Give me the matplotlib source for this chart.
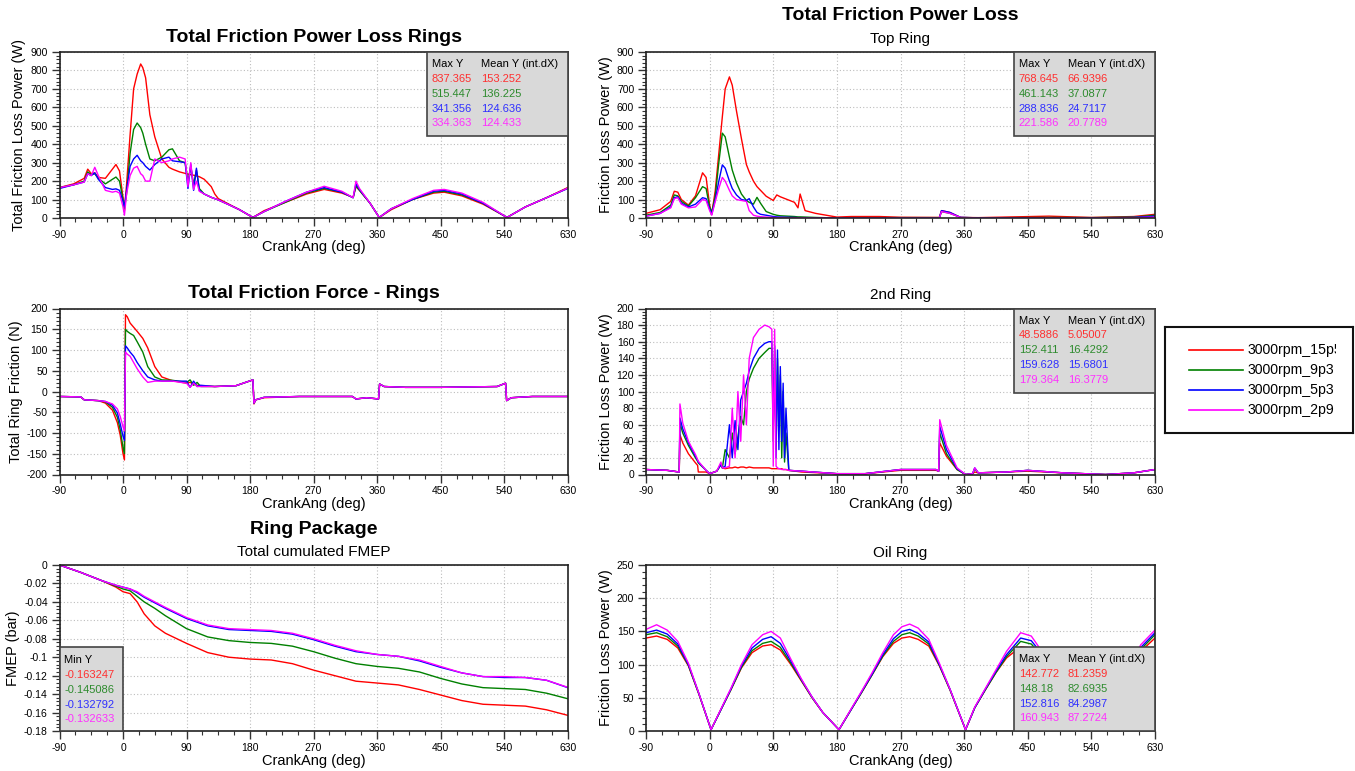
import numpy as np
import matplotlib.pyplot as plt
from matplotlib.ticker import MultipleLocator, AutoMinorLocator, FuncFormatter
from matplotlib.patches import Rectangle
from matplotlib.transforms import Bbox, TransformedBbox

plt.rcParams['font.family'] = ['Liberation Sans', 'DejaVu Sans']
plt.rcParams['axes.unicode_minus'] = False

runs = ['3000rpm_15p5', '3000rpm_9p3', '3000rpm_5p3', '3000rpm_2p9']
colors = ['#ff0000', '#008000', '#0000ff', '#ff00ff']
text_colors = ['#ff3030', '#2e8b2e', '#3030ff', '#ff30ff']

# ---- Total friction power loss rings (W)
x_p1 = [-90, -70, -55, -50, -45, -40, -35, -25, -15, -10, -5, 0, 2, 5, 10,
        15, 20, 25, 28, 32, 38, 45, 55, 65, 70, 80, 88, 92, 96, 100,
        104, 108, 115, 125, 130, 135, 150, 165, 184, 200, 230, 260, 285, 310, 326,
        330, 335, 350, 363, 380, 410, 440, 455, 480, 510, 544, 570, 600, 630]
p1_red = [165, 185, 215, 265, 240, 245, 220, 215, 265, 290, 255, 110, 40, 180, 450,
          700, 780, 835, 815, 760, 560, 440, 320, 275, 265, 250, 242, 238, 235, 232,
          228, 224, 210, 170, 130, 105, 75, 45, 3, 40, 85, 130, 155, 135, 112,
          170, 150, 80, 3, 45, 100, 135, 140, 120, 75, 3, 60, 110, 165]
p1_green = [165, 180, 200, 250, 235, 240, 215, 185, 210, 222, 200, 100, 50, 130, 350,
            480, 515, 490, 460, 400, 320, 310, 330, 370, 375, 310, 300, 200, 280, 180,
            260, 160, 130, 112, 105, 98, 72, 45, 3, 35, 85, 135, 160, 140, 110,
            175, 150, 80, 3, 50, 100, 140, 145, 125, 80, 3, 60, 110, 162]
p1_blue = [160, 180, 195, 240, 230, 245, 210, 165, 155, 158, 150, 90, 60, 150, 280,
           320, 340, 310, 300, 280, 260, 290, 320, 330, 310, 305, 300, 160, 290, 150,
           270, 150, 130, 112, 105, 98, 72, 45, 3, 35, 90, 140, 165, 140, 110,
           185, 155, 80, 3, 50, 100, 145, 150, 130, 80, 3, 60, 110, 160]
p1_magenta = [165, 180, 195, 240, 230, 275, 230, 150, 140, 145, 135, 60, 15, 130, 230,
              270, 280, 240, 230, 200, 200, 320, 300, 310, 320, 330, 320, 170, 300, 155,
              200, 145, 130, 112, 105, 98, 72, 45, 3, 35, 90, 140, 172, 145, 110,
              200, 160, 80, 3, 50, 105, 150, 155, 135, 85, 3, 60, 110, 162]
p1_max = ['837.365', '515.447', '341.356', '334.363']
p1_mean = ['153.252', '136.225', '124.636', '124.433']

# ---- Top ring (W)
x_p2 = [-90, -70, -55, -50, -45, -40, -30, -20, -10, -5, 0, 3, 8, 13, 18,
        22, 28, 32, 38, 45, 52, 56, 62, 67, 72, 80, 90, 95, 100, 120,
        125, 128, 135, 150, 180, 200, 240, 270, 325, 328, 340, 355, 380, 480, 540,
        600, 630]
p2_red = [25, 45, 90, 145, 140, 100, 70, 120, 245, 220, 70, 22, 150, 350, 550,
          700, 765, 720, 580, 430, 290, 250, 200, 170, 150, 118, 95, 125, 115, 85,
          55, 130, 40, 25, 5, 8, 8, 4, 3, 40, 30, 3, 2, 10, 3,
          8, 20]
p2_green = [15, 30, 70, 125, 120, 90, 65, 110, 170, 160, 60, 30, 120, 300, 460,
            440, 330, 260, 190, 130, 95, 85, 75, 112, 80, 35, 20, 15, 12, 8,
            6, 6, 5, 3, 0, 2, 2, 2, 2, 35, 25, 3, 1, 3, 2,
            5, 15]
p2_blue = [10, 25, 60, 110, 115, 80, 60, 75, 110, 105, 50, 20, 100, 200, 288,
           270, 200, 160, 125, 100, 95, 105, 60, 30, 20, 15, 8, 6, 5, 3,
           2, 2, 2, 1, 0, 1, 1, 1, 1, 40, 30, 3, 1, 1, 1,
           3, 10]
p2_magenta = [10, 25, 55, 105, 110, 75, 55, 60, 100, 95, 40, 15, 90, 160, 220,
              200, 150, 120, 100, 95, 90, 40, 15, 10, 7, 5, 3, 2, 2, 1,
              1, 1, 1, 0, 0, 0, 0, 0, 0, 35, 25, 3, 0, 0, 0,
              2, 5]
p2_max = ['768.645', '461.143', '288.836', '221.586']
p2_mean = ['66.9396', '37.0877', '24.7117', '20.7789']

# ---- Total ring friction force (N)
x_p3 = [-90, -60, -55, -35, -25, -15, -8, -4, 0, 2, 3.5, 6, 10, 15, 20,
        28, 35, 45, 55, 70, 90, 95, 100, 105, 110, 130, 160, 184, 185.5, 188,
        200, 250, 325, 330, 345, 362, 363.5, 370, 400, 450, 530, 542, 543.5, 550, 580,
        630]
p3_red = [-12, -13, -20, -22, -28, -45, -75, -105, -150, -165, 185, 180, 165, 155, 145,
          128, 105, 60, 35, 26, 20, 22, 18, 15, 14, 12, 14, 28, -30, -20,
          -15, -12, -12, -18, -15, -18, 18, 12, 10, 10, 12, 20, -22, -15, -12,
          -12]
p3_green = [-12, -13, -20, -22, -25, -38, -62, -92, -135, -150, 150, 145, 140, 135, 120,
            95, 60, 35, 28, 27, 22, 28, 15, 22, 12, 12, 14, 28, -28, -20,
            -14, -12, -12, -18, -15, -18, 18, 12, 10, 10, 12, 20, -22, -15, -12,
            -12]
p3_blue = [-12, -13, -20, -22, -24, -33, -52, -78, -108, -118, 110, 105, 95, 85, 70,
           50, 35, 28, 25, 25, 25, 10, 25, 12, 15, 12, 14, 28, -28, -20,
           -14, -12, -12, -18, -15, -18, 18, 12, 10, 10, 12, 20, -22, -15, -12,
           -12]
p3_magenta = [-12, -13, -20, -22, -24, -30, -42, -60, -85, -95, 95, 90, 85, 70, 55,
              35, 22, 25, 25, 25, 20, 10, 20, 12, 12, 12, 14, 28, -28, -20,
              -14, -12, -12, -18, -15, -18, 18, 12, 10, 10, 12, 20, -22, -15, -12,
              -12]

# ---- 2nd ring (W)
x_p4 = [-90, -60, -43, -42, -38, -30, -20, -17, -16, -5, 0, 10, 16, 18, 22,
        28, 32, 36, 40, 44, 48, 52, 56, 62, 70, 78, 84, 88, 90, 92,
        94, 96, 98, 100, 102, 104, 106, 108, 112, 130, 180, 220, 270, 320, 324,
        325.5, 335, 350, 362, 372, 375, 380, 420, 450, 500, 530, 560, 600, 630]
p4_red = [6, 5, 3, 48, 38, 25, 14, 11, 3, 3, 1, 4, 12, 8, 7,
          8, 8, 9, 8, 9, 9, 8, 9, 8, 8, 8, 8, 7, 7, 7,
          7, 7, 7, 7, 7, 6, 6, 6, 5, 3, 1, 1, 5, 5, 4,
          38, 22, 6, 0, 1, 3, 2, 3, 4, 2, 1, 0, 2, 6]
p4_green = [6, 5, 3, 62, 50, 35, 20, 16, 14, 5, 1, 4, 12, 8, 30,
            20, 50, 25, 45, 70, 60, 100, 115, 128, 140, 147, 152, 152, 40, 150,
            30, 140, 60, 120, 20, 100, 15, 50, 5, 4, 1, 1, 6, 6, 4,
            50, 25, 6, 0, 1, 7, 2, 3, 5, 2, 1, 0, 2, 6]
p4_blue = [6, 5, 3, 68, 55, 38, 22, 17, 15, 5, 1, 4, 12, 8, 10,
           60, 20, 65, 30, 90, 100, 110, 125, 140, 152, 158, 160, 160, 60, 155,
           20, 150, 30, 130, 40, 110, 20, 80, 5, 4, 1, 1, 6, 6, 4,
           58, 30, 7, 0, 1, 8, 2, 3, 5, 2, 1, 0, 2, 6]
p4_magenta = [6, 5, 3, 85, 62, 40, 24, 18, 16, 5, 1, 4, 15, 8, 8,
              10, 80, 20, 100, 40, 120, 60, 140, 165, 175, 180, 178, 175, 10, 175,
              10, 8, 7, 7, 6, 6, 6, 6, 5, 4, 1, 1, 6, 6, 4,
              66, 35, 8, 0, 1, 8, 2, 3, 5, 2, 1, 0, 2, 6]
p4_max = ['48.5886', '152.411', '159.628', '179.364']
p4_mean = ['5.05007', '16.4292', '15.6801', '16.3779']

# ---- Ring package cumulated FMEP (bar)
x_p5 = [-90, -60, -30, -10, 0, 10, 20, 30, 45, 60, 90, 120, 150, 180, 210,
        240, 270, 300, 330, 360, 390, 420, 450, 480, 510, 540, 570, 600, 630]
p5_red = [0, -0.008, -0.017, -0.024, -0.029, -0.031, -0.040, -0.053, -0.066, -0.074,
          -0.085, -0.095, -0.100, -0.102, -0.103, -0.107, -0.114, -0.120, -0.126, -0.128,
          -0.130, -0.135, -0.141, -0.147, -0.151, -0.152, -0.153, -0.157, -0.163]
p5_green = [0, -0.008, -0.017, -0.023, -0.026, -0.028, -0.034, -0.040, -0.047, -0.055,
            -0.069, -0.078, -0.082, -0.084, -0.085, -0.088, -0.094, -0.101, -0.107, -0.110,
            -0.112, -0.116, -0.123, -0.129, -0.133, -0.134, -0.135, -0.139, -0.145]
p5_blue = [0, -0.008, -0.017, -0.022, -0.024, -0.026, -0.030, -0.035, -0.041, -0.047,
           -0.058, -0.066, -0.070, -0.071, -0.072, -0.075, -0.081, -0.088, -0.094, -0.097,
           -0.099, -0.104, -0.111, -0.117, -0.121, -0.122, -0.122, -0.125, -0.133]
p5_magenta = [0, -0.008, -0.017, -0.022, -0.024, -0.026, -0.029, -0.034, -0.040, -0.046,
              -0.057, -0.065, -0.069, -0.070, -0.071, -0.074, -0.080, -0.087, -0.093, -0.097,
              -0.099, -0.103, -0.110, -0.117, -0.121, -0.121, -0.122, -0.125, -0.1326]
p5_min = ['-0.163247', '-0.145086', '-0.132792', '-0.132633']

# ---- Oil ring (W)
x_p6 = [-90, -75, -60, -45, -30, -15, 2, 15, 30, 45, 60, 75, 87, 100, 115,
        130, 145, 160, 183, 200, 215, 230, 245, 260, 272, 283, 295, 310, 325, 340,
        362, 375, 390, 405, 420, 440, 455, 470, 490, 515, 543, 565, 590, 610, 630]
p6_red = [140, 143, 138, 125, 98, 55, 2, 30, 62, 95, 118, 128, 130, 122, 100,
          75, 50, 28, 2, 32, 58, 85, 112, 132, 140, 142, 138, 128, 98, 62,
          2, 35, 62, 88, 110, 127, 125, 110, 80, 40, 2, 45, 90, 120, 140]
p6_green = [145, 148, 142, 128, 99, 55, 2, 30, 62, 96, 121, 132, 135, 126, 102,
            76, 50, 28, 2, 32, 58, 85, 113, 135, 145, 148, 143, 131, 99, 62,
            2, 35, 62, 88, 112, 135, 131, 113, 81, 40, 2, 45, 91, 123, 145]
p6_blue = [148, 152, 146, 131, 100, 56, 2, 30, 63, 98, 125, 138, 142, 132, 105,
           77, 51, 28, 2, 32, 59, 86, 115, 139, 150, 153, 147, 134, 100, 63,
           2, 35, 63, 90, 115, 140, 136, 116, 82, 41, 2, 45, 92, 126, 148]
p6_magenta = [153, 160, 152, 135, 102, 56, 2, 31, 64, 100, 130, 145, 150, 140, 108,
              78, 51, 28, 2, 33, 60, 88, 118, 145, 157, 161, 155, 138, 102, 63,
              2, 36, 64, 92, 120, 148, 143, 120, 83, 41, 2, 46, 93, 130, 152]
p6_max = ['142.772', '148.18', '152.816', '160.943']
p6_mean = ['81.2359', '82.6935', '84.2987', '87.2724']

W, H = 1355, 771
fig = plt.figure(figsize=(W / 100, H / 100), dpi=100)


def make_ax(left, top, bottom, right):
    return fig.add_axes([left / W, 1 - bottom / H, (right - left) / W, (bottom - top) / H])


def setup(ax, ylim, ymajor, ylabel, fmt=None):
    ax.set_xlim(-90, 630)
    ax.set_ylim(*ylim)
    ax.xaxis.set_major_locator(MultipleLocator(90))
    ax.xaxis.set_minor_locator(MultipleLocator(22.5))
    ax.yaxis.set_major_locator(MultipleLocator(ymajor))
    ax.yaxis.set_minor_locator(AutoMinorLocator(5))
    if fmt:
        ax.yaxis.set_major_formatter(FuncFormatter(fmt))
    ax.grid(True, which='major', color='#bdbdbd', linestyle=(0, (1, 2)), linewidth=0.8)
    ax.set_axisbelow(True)
    ax.tick_params(which='major', length=5.5, width=1, labelsize=7.5, color='#333333', pad=3)
    ax.tick_params(which='minor', length=3, width=0.8, color='#333333')
    ax.set_xlabel('CrankAng (deg)', fontsize=10.5, labelpad=0.5)
    ax.set_ylabel(ylabel, fontsize=10.5, labelpad=3)
    for s in ax.spines.values():
        s.set_linewidth(1.2)
        s.set_color('#222222')


def draw(ax, x, series):
    for y, c in zip(series, colors):
        ax.plot(x, y, color=c, lw=1.0)


def stat_box(ax, maxs, means, at_top=True):
    h = 84 / 166
    y0 = 1 - h if at_top else 0
    x0 = 1 - 141 / 508
    ax.add_patch(Rectangle((x0, y0), 1 - x0, h, transform=ax.transAxes, facecolor='#d9d9d9',
                           edgecolor='#444444', lw=1.2, zorder=5, clip_on=False))
    top = y0 + h
    xa = x0 + 5 / 508
    xb = x0 + 54 / 508
    ax.text(xa, top - 12 / 166, 'Max Y', transform=ax.transAxes, fontsize=8, va='center', zorder=6)
    ax.text(xb, top - 12 / 166, 'Mean Y (int.dX)', transform=ax.transAxes, fontsize=8, va='center', zorder=6)
    for i in range(4):
        yy = top - (27 + 14.8 * i) / 166
        ax.text(xa, yy, maxs[i], transform=ax.transAxes, fontsize=8, va='center', color=text_colors[i], zorder=6)
        ax.text(xb, yy, means[i], transform=ax.transAxes, fontsize=8, va='center', color=text_colors[i], zorder=6)


LX0, LX1 = 59.5, 567.7
RX0, RX1 = 646, 1155
ax1 = make_ax(LX0, 52, 218, LX1)
ax2 = make_ax(RX0, 52, 218, RX1)
ax3 = make_ax(LX0, 308.5, 474.5, LX1)
ax4 = make_ax(RX0, 308.5, 474.5, RX1)
ax5 = make_ax(LX0, 565, 731, LX1)
ax6 = make_ax(RX0, 565, 731, RX1)

setup(ax1, (0, 900), 100, 'Total Friction Loss Power (W)')
draw(ax1, x_p1, [p1_red, p1_green, p1_blue, p1_magenta])
stat_box(ax1, p1_max, p1_mean)

setup(ax2, (0, 900), 100, 'Friction Loss Power (W)')
draw(ax2, x_p2, [p2_red, p2_green, p2_blue, p2_magenta])
stat_box(ax2, p2_max, p2_mean)

setup(ax3, (-200, 200), 50, 'Total Ring Friction (N)')
draw(ax3, x_p3, [p3_red, p3_green, p3_blue, p3_magenta])

setup(ax4, (0, 200), 20, 'Friction Loss Power (W)')
draw(ax4, x_p4, [p4_red, p4_green, p4_blue, p4_magenta])
stat_box(ax4, p4_max, p4_mean)

setup(ax5, (-0.18, 0), 0.02, 'FMEP (bar)', fmt=lambda v, p: '%g' % round(v, 4))
draw(ax5, x_p5, [p5_red, p5_green, p5_blue, p5_magenta])
mh = 84 / 166
mw = 63.5 / 508
ax5.add_patch(Rectangle((0, 0), mw, mh, transform=ax5.transAxes, facecolor='#d9d9d9',
                        edgecolor='#444444', lw=1.2, zorder=5, clip_on=False))
ax5.text(4.5 / 508, mh - 13 / 166, 'Min Y', transform=ax5.transAxes, fontsize=8, va='center', zorder=6)
for i in range(4):
    ax5.text(4.5 / 508, mh - (28 + 14.8 * i) / 166, p5_min[i], transform=ax5.transAxes,
             fontsize=8, va='center', color=text_colors[i], zorder=6)

setup(ax6, (0, 250), 50, 'Friction Loss Power (W)')
draw(ax6, x_p6, [p6_red, p6_green, p6_blue, p6_magenta])
stat_box(ax6, p6_max, p6_mean, at_top=False)

# titles
lc = (LX0 + LX1) / 2 / W
rc = (RX0 + RX1) / 2 / W
fig.text(lc, 1 - 37 / H, 'Total Friction Power Loss Rings', ha='center', va='center', fontsize=14, fontweight='bold')
fig.text(rc, 1 - 16 / H, 'Total Friction Power Loss', ha='center', va='center', fontsize=14, fontweight='bold')
fig.text(rc, 1 - 39 / H, 'Top Ring', ha='center', va='center', fontsize=11)
fig.text(lc, 1 - 294 / H, 'Total Friction Force - Rings', ha='center', va='center', fontsize=14, fontweight='bold')
fig.text(rc, 1 - 295 / H, '2nd Ring', ha='center', va='center', fontsize=11)
fig.text(lc, 1 - 529 / H, 'Ring Package', ha='center', va='center', fontsize=14, fontweight='bold')
fig.text(lc, 1 - 552 / H, 'Total cumulated FMEP', ha='center', va='center', fontsize=11)
fig.text(rc, 1 - 552.5 / H, 'Oil Ring', ha='center', va='center', fontsize=11)

# legend box at the right edge
lg = make_ax(1165, 327, 433, 1353)
lg.set_xlim(0, 188)
lg.set_ylim(106, 0)
lg.set_xticks([])
lg.set_yticks([])
for s in lg.spines.values():
    s.set_linewidth(1.5)
    s.set_color('#111111')
clip_box = TransformedBbox(Bbox([[0, 0], [171, 106]]), lg.transData)
for i, (name, c) in enumerate(zip(runs, colors)):
    yy = 23 + 20 * i
    lg.plot([24, 78], [yy, yy], color=c, lw=1.2)
    t = lg.text(83, yy, name, fontsize=10.2, va='center', clip_on=True)
    t.set_clip_box(clip_box)

fig.savefig('out.png', dpi=100)
